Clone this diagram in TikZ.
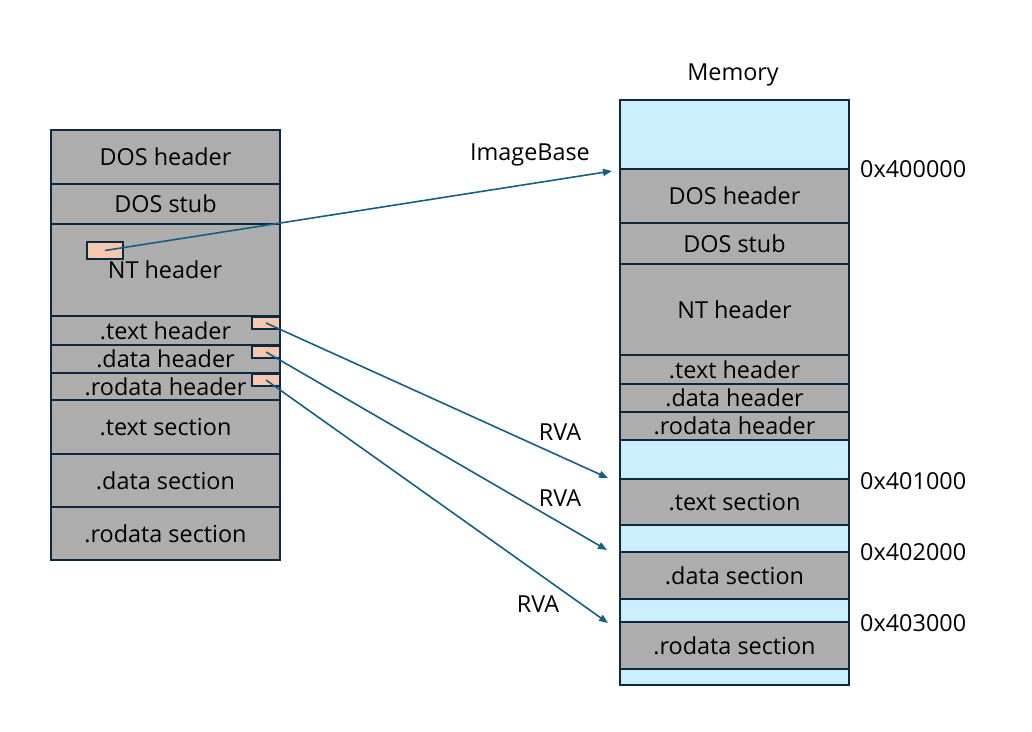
\documentclass[tikz,border=0pt]{standalone}
\usepackage{fontspec}
\setmainfont{Open Sans}
\usetikzlibrary{arrows.meta}
\definecolor{cellgray}{HTML}{ADADAD}
\definecolor{cellblue}{HTML}{CAEEFB}
\definecolor{borderc}{HTML}{0E2841}
\definecolor{arrowc}{HTML}{156082}
\definecolor{peach}{HTML}{F6C6AD}
\tikzset{
  cell/.style={draw=borderc, line width=2pt, fill=cellgray, inner sep=0pt, anchor=north west,
    minimum width=229pt, font=\fontsize{23.4}{28}\selectfont, text=black},
  gap/.style={cell, fill=cellblue},
  tag/.style={draw=borderc, line width=2pt, fill=peach, inner sep=0pt, anchor=north west},
  conn/.style={draw=arrowc, line width=1.6pt, -{Triangle[length=9pt,width=7pt]}},
  lbl/.style={font=\fontsize{23.4}{28}\selectfont, text=black, inner sep=0pt},
}
\begin{document}
\begin{tikzpicture}[x=1pt,y=-1pt]
\useasboundingbox (0,0) rectangle (1032,731);
% left file layout
\node[cell, minimum height=54pt] (L1) at (50,129) {DOS header};
\node[cell, minimum height=40pt] (L2) at (50,183) {DOS stub};
\node[cell, minimum height=92pt] (L3) at (50,223) {};
\node[lbl] (L3t) at (165,270) {NT header};
\node[cell, minimum height=29pt] (L4) at (50,315) {.text header};
\node[cell, minimum height=28pt] (L5) at (50,344) {.data header};
\node[cell, minimum height=27pt] (L6) at (50,372) {.rodata header};
\node[cell, minimum height=54pt] (L7) at (50,399) {.text section};
\node[cell, minimum height=53pt] (L8) at (50,453) {.data section};
\node[cell, minimum height=53pt] (L9) at (50,506) {.rodata section};
% tags
\node[tag, minimum width=36pt, minimum height=17pt] (tnt) at (86,241) {};
\node[tag, minimum width=28pt, minimum height=12pt] (tth) at (251,316) {};
\node[tag, minimum width=28pt, minimum height=12pt] (tdh) at (251,345) {};
\node[tag, minimum width=28pt, minimum height=12pt] (trh) at (251,373) {};
% right memory layout
\node[gap, minimum height=69pt] (R0) at (619,99) {};
\node[cell, minimum height=54pt] (R1) at (619,168) {DOS header};
\node[cell, minimum height=41pt] (R2) at (619,222) {DOS stub};
\node[cell, minimum height=91pt] (R3) at (619,263) {NT header};
\node[cell, minimum height=29pt] (R4) at (619,354) {.text header};
\node[cell, minimum height=28pt] (R5) at (619,383) {.data header};
\node[cell, minimum height=28pt] (R6) at (619,411) {.rodata header};
\node[gap, minimum height=39pt] (R7) at (619,439) {};
\node[cell, minimum height=46pt] (R8) at (619,478) {.text section};
\node[gap, minimum height=27pt] (R9) at (619,524) {};
\node[cell, minimum height=47pt] (R10) at (619,551) {.data section};
\node[gap, minimum height=23pt] (R11) at (619,598) {};
\node[cell, minimum height=47pt] (R12) at (619,621) {.rodata section};
\node[gap, minimum height=16pt] (R13) at (619,668) {};
% labels
\node[lbl] (mem) at (733,75) {Memory};
\node[lbl] (ib) at (530,155) {ImageBase};
\node[lbl, anchor=west] (a0) at (860,169) {0x400000};
\node[lbl, anchor=west] (a1) at (860,481) {0x401000};
\node[lbl, anchor=west] (a2) at (860,552) {0x402000};
\node[lbl, anchor=west] (a3) at (860,623) {0x403000};
\node[lbl] (rva1) at (560,432) {RVA};
\node[lbl] (rva2) at (560,498) {RVA};
\node[lbl] (rva3) at (538,604) {RVA};
% arrow ends
\coordinate (e0) at (612,171);
\coordinate (e1) at (608,478);
\coordinate (e2) at (607,550);
\coordinate (e3) at (608,623);
\draw[conn] (tnt.center) -- (e0);
\draw[conn] (tth.center) -- (e1);
\draw[conn] (tdh.center) -- (e2);
\draw[conn] (trh.center) -- (e3);
\end{tikzpicture}
\end{document}
